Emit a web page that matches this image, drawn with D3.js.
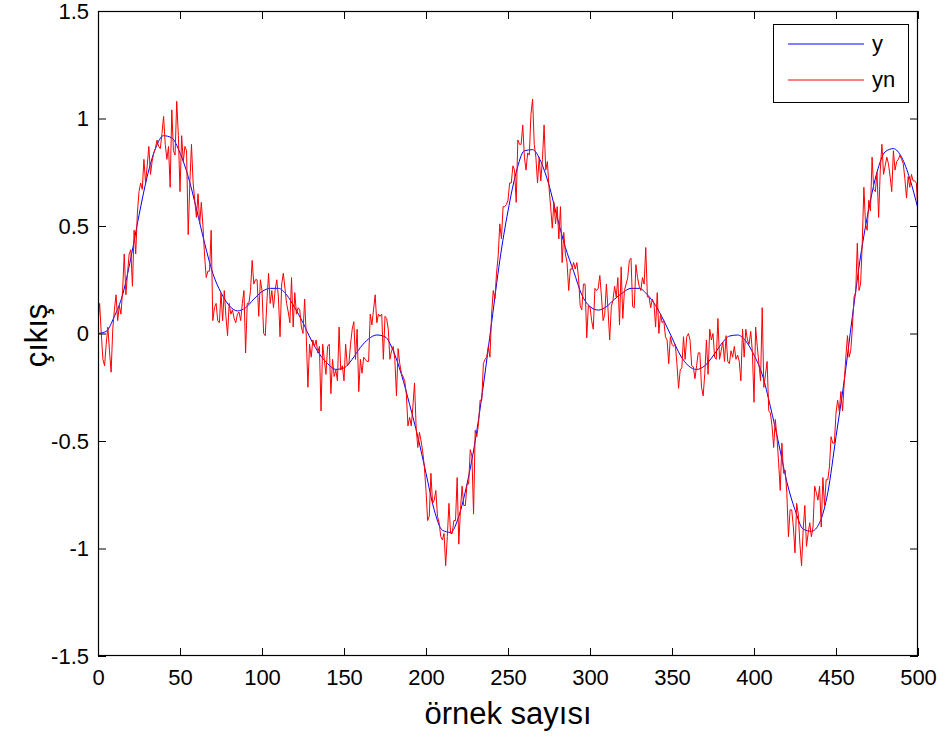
<!DOCTYPE html>
<html>
<head>
<meta charset="utf-8">
<script src="https://cdn.jsdelivr.net/npm/d3@7"></script>
<style>
  html, body { margin: 0; padding: 0; background: #ffffff; }
  svg { display: block; font-family: "Liberation Sans", Arial, Helvetica, sans-serif; }
</style>
</head>
<body>
<svg id="chart" width="946" height="737"></svg>
<script>
// ---------- data ----------
const xTicks = [0, 50, 100, 150, 200, 250, 300, 350, 400, 450, 500];
const yTicks = [-1.5, -1, -0.5, 0, 0.5, 1, 1.5];
const xTickLabels = ["0", "50", "100", "150", "200", "250", "300", "350", "400", "450", "500"];
const yTickLabels = ["-1.5", "-1", "-0.5", "0", "0.5", "1", "1.5"];
const seriesNames = ["y", "yn"];

// smooth output y, sampled every 5 samples (sample index 0,5,...,500)
const yStep = 5;
const yValues = [
  0.00, 0.01, 0.08, 0.18, 0.35, 0.55, 0.73, 0.86, 0.92, 0.91,
  0.84, 0.73, 0.58, 0.42, 0.28, 0.19, 0.13, 0.105, 0.12, 0.16,
  0.195, 0.21, 0.21, 0.18, 0.12, 0.05, -0.03, -0.095, -0.14, -0.167,
  -0.16, -0.12, -0.065, -0.025, -0.007, -0.015, -0.08, -0.19, -0.33, -0.48,
  -0.65, -0.82, -0.915, -0.925, -0.85, -0.70, -0.50, -0.24, 0.05, 0.34,
  0.57, 0.75, 0.85, 0.855, 0.80, 0.69, 0.54, 0.40, 0.29, 0.18,
  0.125, 0.109, 0.125, 0.16, 0.19, 0.21, 0.21, 0.18, 0.13, 0.06,
  -0.02, -0.10, -0.15, -0.167, -0.15, -0.105, -0.05, -0.012, -0.007, -0.035,
  -0.10, -0.19, -0.34, -0.51, -0.69, -0.82, -0.91, -0.92, -0.88, -0.74,
  -0.48, -0.22, 0.08, 0.36, 0.58, 0.75, 0.845, 0.86, 0.82, 0.72,
  0.58
];

// noisy output yn, one value per sample (0..500)
const ynValues = [
  0.05, 0.14, 0.00, -0.12, -0.15, -0.05, 0.03, -0.08, -0.18, 0.02,
  0.11, 0.18, 0.06, 0.13, 0.09, 0.20, 0.37, 0.18, 0.28, 0.37,
  0.39, 0.22, 0.48, 0.37, 0.56, 0.66, 0.70, 0.67, 0.81, 0.70,
  0.78, 0.87, 0.74, 0.80, 0.84, 0.86, 0.90, 0.87, 0.86, 0.93,
  1.01, 0.88, 0.81, 0.87, 0.68, 1.04, 0.85, 0.83, 1.08, 0.92,
  0.66, 0.92, 0.80, 0.87, 0.85, 0.46, 0.70, 0.88, 0.70, 0.62,
  0.54, 0.65, 0.51, 0.61, 0.50, 0.36, 0.26, 0.29, 0.29, 0.48,
  0.06, 0.12, 0.14, 0.06, 0.05, 0.19, 0.06, 0.20, 0.08, -0.01,
  0.14, 0.09, 0.11, 0.07, 0.05, 0.09, 0.10, 0.06, 0.14, 0.20,
  -0.09, 0.14, 0.14, 0.20, 0.34, 0.23, 0.25, 0.25, 0.08, 0.25,
  0.20, 0.00, -0.01, 0.15, 0.28, 0.14, 0.20, 0.12, 0.20, 0.25,
  0.17, -0.015, 0.23, 0.28, 0.21, 0.14, 0.10, 0.05, 0.26, 0.03,
  0.19, 0.09, 0.12, 0.11, 0.03, 0.00, 0.16, -0.015, -0.25, -0.05,
  -0.11, -0.03, -0.06, -0.03, -0.09, -0.06, -0.36, -0.05, -0.12, -0.19,
  -0.06, -0.05, -0.28, -0.12, -0.20, -0.17, -0.22, 0.03, -0.17, -0.15,
  -0.22, -0.05, -0.15, -0.14, -0.05, 0.02, 0.055, -0.12, 0.02, -0.27,
  -0.12, -0.185, -0.11, -0.12, -0.13, -0.13, 0.09, 0.04, 0.11, 0.18,
  0.05, 0.09, 0.08, 0.09, -0.12, 0.08, 0.07, 0.02, -0.12, -0.08,
  -0.06, -0.12, -0.29, -0.07, -0.14, -0.185, -0.20, -0.22, -0.28, -0.43,
  -0.39, -0.43, -0.34, -0.23, -0.44, -0.53, -0.46, -0.50, -0.55, -0.62,
  -0.73, -0.87, -0.85, -0.65, -0.79, -0.775, -0.73, -0.85, -0.88, -0.945,
  -0.96, -0.93, -1.08, -0.945, -0.79, -0.93, -0.93, -0.87, -0.87, -0.67,
  -0.98, -0.82, -0.71, -0.80, -0.80, -0.70, -0.70, -0.54, -0.57, -0.84,
  -0.45, -0.48, -0.42, -0.31, -0.31, -0.14, -0.12, -0.11, -0.06, -0.11,
  0.09, 0.20, 0.16, 0.28, 0.36, 0.51, 0.44, 0.59, 0.59, 0.60,
  0.62, 0.70, 0.70, 0.78, 0.76, 0.61, 0.90, 0.88, 0.88, 0.97,
  0.82, 0.76, 0.84, 0.83, 1.02, 1.09, 0.88, 0.82, 0.70, 0.82,
  0.71, 0.81, 0.97, 0.76, 0.80, 0.68, 0.59, 0.49, 0.61, 0.51,
  0.59, 0.44, 0.59, 0.33, 0.47, 0.37, 0.33, 0.20, 0.30, 0.30,
  0.33, 0.30, 0.33, 0.26, 0.13, 0.11, 0.23, 0.23, -0.02, 0.13,
  0.125, 0.06, 0.02, 0.21, 0.20, 0.21, 0.27, 0.17, 0.06, 0.09,
  0.23, 0.11, -0.03, 0.125, 0.155, 0.22, 0.17, 0.26, 0.04, 0.31,
  0.07, 0.20, 0.23, 0.26, 0.34, 0.35, 0.125, 0.12, 0.32, 0.26,
  0.22, 0.20, 0.26, 0.23, 0.40, 0.17, 0.17, 0.12, 0.16, 0.14,
  0.03, 0.19, 0.00, 0.09, 0.05, 0.06, -0.015, -0.03, -0.14, -0.015,
  -0.05, -0.06, -0.05, -0.14, -0.255, -0.17, -0.16, -0.015, -0.12, -0.015,
  0.00, -0.03, -0.15, -0.155, -0.21, -0.15, -0.09, -0.09, -0.25, -0.29,
  -0.185, -0.03, -0.19, 0.02, -0.03, 0.00, -0.11, -0.12, 0.07, -0.12,
  -0.08, -0.04, -0.13, -0.01, -0.13, -0.14, -0.08, -0.11, -0.06, -0.12,
  -0.10, -0.13, -0.22, 0.02, -0.11, 0.02, -0.03, -0.05, 0.01, -0.085,
  -0.32, 0.03, -0.06, -0.14, -0.22, 0.12, -0.25, -0.19, -0.13, -0.36,
  -0.37, -0.43, -0.53, -0.40, -0.48, -0.60, -0.73, -0.51, -0.65, -0.635,
  -0.74, -0.945, -0.82, -0.82, -0.90, -1.02, -0.79, -0.84, -0.98, -1.08,
  -0.91, -0.80, -0.99, -0.93, -0.88, -0.945, -0.90, -0.71, -0.74, -0.775,
  -0.71, -0.90, -0.67, -0.80, -0.68, -0.68, -0.62, -0.48, -0.51, -0.51,
  -0.37, -0.31, -0.36, -0.27, -0.36, -0.23, -0.11, -0.01, -0.11, -0.08,
  0.03, 0.17, 0.19, 0.42, 0.20, 0.23, 0.42, 0.68, 0.51, 0.48,
  0.62, 0.57, 0.82, 0.67, 0.66, 0.75, 0.54, 0.76, 0.88, 0.74,
  0.78, 0.82, 0.79, 0.73, 0.66, 0.85, 0.76, 0.80, 0.81, 0.83,
  0.81, 0.79, 0.72, 0.63, 0.73, 0.68, 0.74, 0.71, 0.71, 0.70,
  0.56
];

// ---------- drawing ----------
const svg = d3.select("#chart");
const plot = { left: 98, right: 918, top: 11, bottom: 656 };
const font = '"Liberation Sans", Arial, Helvetica, sans-serif';

const x = d3.scaleLinear().domain([0, 500]).range([plot.left, plot.right]);
const y = d3.scaleLinear().domain([-1.5, 1.5]).range([plot.bottom, plot.top]);

svg.append("rect")
  .attr("x", plot.left).attr("y", plot.top)
  .attr("width", plot.right - plot.left).attr("height", plot.bottom - plot.top)
  .attr("fill", "#fff");

svg.append("clipPath").attr("id", "clip")
  .append("rect")
  .attr("x", plot.left).attr("y", plot.top)
  .attr("width", plot.right - plot.left).attr("height", plot.bottom - plot.top);

const lineY = d3.line()
  .x((d, i) => x(i * yStep))
  .y(d => y(d))
  .curve(d3.curveMonotoneX);
const lineYn = d3.line()
  .x((d, i) => x(i))
  .y(d => y(d));

const g = svg.append("g").attr("clip-path", "url(#clip)");
g.append("path").datum(yValues)
  .attr("d", lineY).attr("fill", "none")
  .attr("stroke", "#0000ff").attr("stroke-width", 1);
g.append("path").datum(ynValues)
  .attr("d", lineYn).attr("fill", "none")
  .attr("stroke", "#ff0000").attr("stroke-width", 1)
  .attr("stroke-linejoin", "round");

// axes with inward ticks on all four sides
const tickLen = 8;
function styleAxis(sel) {
  sel.select(".domain").remove();
  sel.selectAll(".tick line").attr("stroke", "#000").attr("stroke-width", 1);
  sel.selectAll("text").attr("fill", "#000")
    .style("font-family", font).style("font-size", "22px");
}
svg.append("g").attr("transform", `translate(0,${plot.bottom})`)
  .call(d3.axisBottom(x).tickValues(xTicks).tickFormat((d, i) => xTickLabels[i])
    .tickSizeInner(-tickLen).tickSizeOuter(0).tickPadding(13))
  .call(styleAxis);
svg.append("g").attr("transform", `translate(0,${plot.top})`)
  .call(d3.axisTop(x).tickValues(xTicks).tickFormat("")
    .tickSizeInner(-tickLen).tickSizeOuter(0))
  .call(styleAxis);
svg.append("g").attr("transform", `translate(${plot.left},0)`)
  .call(d3.axisLeft(y).tickValues(yTicks).tickFormat((d, i) => yTickLabels[i])
    .tickSizeInner(-tickLen).tickSizeOuter(0).tickPadding(9))
  .call(styleAxis);
svg.append("g").attr("transform", `translate(${plot.right},0)`)
  .call(d3.axisRight(y).tickValues(yTicks).tickFormat("")
    .tickSizeInner(-tickLen).tickSizeOuter(0))
  .call(styleAxis);

// frame
svg.append("rect")
  .attr("x", plot.left + 0.5).attr("y", plot.top + 0.5)
  .attr("width", plot.right - plot.left - 1).attr("height", plot.bottom - plot.top - 1)
  .attr("fill", "none").attr("stroke", "#000").attr("stroke-width", 1.2);

// axis titles
svg.append("text")
  .attr("x", (plot.left + plot.right) / 2).attr("y", 724)
  .attr("text-anchor", "middle")
  .style("font-family", font).style("font-size", "31px")
  .text("örnek sayısı");
svg.append("text")
  .attr("transform", `translate(47,${(plot.top + plot.bottom) / 2 + 2}) rotate(-90)`)
  .attr("text-anchor", "middle")
  .style("font-family", font).style("font-size", "31px")
  .text("çıkış");

// legend
const legend = svg.append("g");
legend.append("rect")
  .attr("x", 773.5).attr("y", 24.5).attr("width", 135).attr("height", 78)
  .attr("fill", "#fff").attr("stroke", "#000").attr("stroke-width", 1);
const legendColors = ["#0000ff", "#ff0000"];
seriesNames.forEach((name, i) => {
  const ly = 44 + i * 36;
  legend.append("line")
    .attr("x1", 788).attr("x2", 864).attr("y1", ly).attr("y2", ly)
    .attr("stroke", legendColors[i]).attr("stroke-width", 1);
  legend.append("text")
    .attr("x", 872).attr("y", ly + 7)
    .style("font-family", font).style("font-size", "22px")
    .text(name);
});
</script>
</body>
</html>
